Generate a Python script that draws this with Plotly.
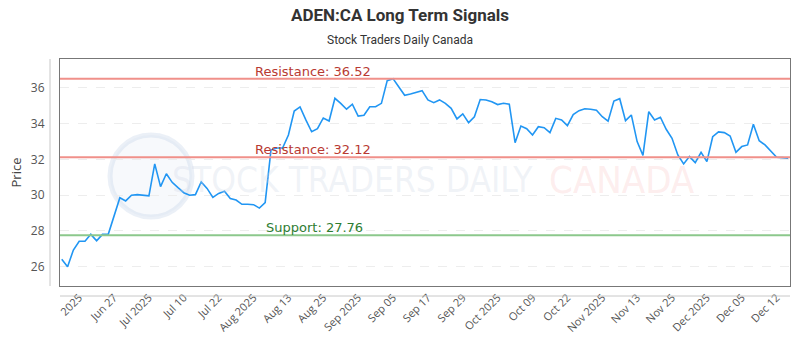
import plotly.graph_objects as go

# ---- data ----
prices = [
    26.41, 26.00, 26.93, 27.42, 27.42, 27.81, 27.45, 27.81, 27.81, 28.85,
    29.86, 29.68, 30.00, 30.03, 30.00, 29.96, 31.75, 30.48, 31.20, 30.72,
    30.42, 30.14, 30.00, 30.03, 30.74, 30.38, 29.88, 30.10, 30.22, 29.81,
    29.73, 29.49, 29.49, 29.47, 29.28, 29.58, 32.53, 32.64, 32.64, 33.37,
    34.71, 34.94, 34.21, 33.55, 33.72, 34.32, 34.15, 35.42, 35.14, 34.81,
    35.09, 34.43, 34.47, 34.95, 34.95, 35.14, 36.41, 36.52, 36.05, 35.59,
    35.66, 35.74, 35.85, 35.33, 35.18, 35.33, 35.14, 34.86, 34.27, 34.55,
    34.06, 34.39, 35.35, 35.33, 35.23, 35.07, 35.14, 35.09, 32.94, 33.87,
    33.72, 33.37, 33.83, 33.78, 33.50, 34.30, 34.21, 33.89, 34.51, 34.73,
    34.84, 34.81, 34.75, 34.39, 34.14, 35.27, 35.40, 34.17, 34.49, 33.00,
    32.23, 34.67, 34.21, 34.36, 33.69, 33.18, 32.25, 31.75, 32.16, 31.82,
    32.40, 31.88, 33.27, 33.54, 33.50, 33.31, 32.40, 32.72, 32.81, 33.97,
    33.05, 32.81, 32.49, 32.12, 32.10, 32.07,
]
x_index = list(range(len(prices)))

tick_positions = [3 + 6 * k for k in range(21)]
tick_labels = ["2025", "Jun 27", "Jul 2025", "Jul 10", "Jul 22", "Aug 2025",
               "Aug 13", "Aug 25", "Sep 2025", "Sep 05", "Sep 17", "Sep 29",
               "Oct 2025", "Oct 09", "Oct 22", "Nov 2025", "Nov 13", "Nov 25",
               "Dec 2025", "Dec 05", "Dec 12"]

resistance_levels = [36.52, 32.12]
support_levels = [27.76]

y_ticks = [26, 28, 30, 32, 34, 36]

fig = go.Figure()

# watermark
fig.add_shape(type="circle", xref="paper", yref="paper",
              x0=(110 - 60) / 730, x1=(192 - 60) / 730,
              y0=(286 - 217) / 227, y1=(286 - 135) / 227,
              line=dict(color="rgba(190,205,230,0.3)", width=5),
              fillcolor="rgba(215,225,240,0.2)", layer="below")
fig.add_annotation(xref="paper", yref="paper", x=(352 - 60) / 730, y=(286 - 180) / 227,
                   text="STOCK TRADERS DAILY", showarrow=False,
                   font=dict(family="DejaVu Sans Condensed", size=35, color="rgba(205,213,230,0.3)"),
                   xanchor="center", yanchor="middle")
fig.add_annotation(xref="paper", yref="paper", x=(622 - 60) / 730, y=(286 - 180) / 227,
                   text="CANADA", showarrow=False,
                   font=dict(family="DejaVu Sans Condensed", size=38, color="rgba(250,195,195,0.3)"),
                   xanchor="center", yanchor="middle")

fig.add_trace(go.Scatter(x=x_index, y=prices, mode="lines",
                         line=dict(color="#2196f3", width=1.6),
                         hoverinfo="y", showlegend=False))

for lvl in resistance_levels:
    fig.add_shape(type="line", xref="paper", x0=0, x1=1, yref="y", y0=lvl, y1=lvl,
                  line=dict(color="#f0908a", width=2))
    fig.add_annotation(xref="paper", x=(313 - 60) / 730, yref="y", y=lvl,
                       text=f"Resistance: {lvl:.2f}", showarrow=False,
                       xanchor="center", yanchor="bottom", yshift=-2,
                       font=dict(family="DejaVu Sans", size=13, color="#b83a32"))
for lvl in support_levels:
    fig.add_shape(type="line", xref="paper", x0=0, x1=1, yref="y", y0=lvl, y1=lvl,
                  line=dict(color="#8cc88c", width=2))
    fig.add_annotation(xref="paper", x=(314 - 60) / 730, yref="y", y=lvl,
                       text=f"Support: {lvl:.2f}", showarrow=False,
                       xanchor="center", yanchor="bottom", yshift=-2,
                       font=dict(family="DejaVu Sans", size=13, color="#2e7d32"))

# offset axis lines
fig.add_shape(type="line", xref="paper", yref="paper", x0=-10 / 730, x1=-10 / 730,
              y0=0, y1=1, line=dict(color="#c8c8c8", width=1))
fig.add_shape(type="line", xref="paper", yref="paper", x0=0, x1=1,
              y0=-10 / 227, y1=-10 / 227, line=dict(color="#c8c8c8", width=1))

fig.update_layout(
    width=800, height=350,
    margin=dict(l=60, r=10, t=59, b=64),
    paper_bgcolor="white", plot_bgcolor="white",
    title=dict(text="<b>ADEN:CA Long Term Signals</b>", x=0.5, xanchor="center",
               y=1 - 15 / 350, yanchor="middle",
               font=dict(family="Roboto", size=17, color="#333333")),
    xaxis=dict(range=[-0.3, len(prices) - 0.7], tickmode="array",
               tickvals=tick_positions, ticktext=tick_labels, tickangle=-45,
               showgrid=False, zeroline=False, showline=True, mirror=True,
               linecolor="#777777", linewidth=1,
               tickfont=dict(family="Open Sans", size=11, color="#555555"),
               ticks=""),
    yaxis=dict(range=[24.92, 37.62], tickmode="array", tickvals=y_ticks,
               showgrid=True, gridcolor="#ededed", griddash="dash", zeroline=False,
               showline=True, mirror=True, linecolor="#777777", linewidth=1,
               tickfont=dict(family="Open Sans", size=12, color="#555555"),
               ticks="", ticklabelstandoff=12,
               title=dict(text="Price", font=dict(family="Open Sans", size=13, color="#444444"),
                          standoff=6)),
)
fig.add_annotation(xref="paper", yref="paper", x=0.5 + (400 - 60 - 365) / 730, y=1 + (59 - 40) / 227,
                   text="Stock Traders Daily Canada", showarrow=False,
                   xanchor="center", yanchor="middle",
                   font=dict(family="Roboto", size=12, color="#333333"))

fig.write_html("out.html")
